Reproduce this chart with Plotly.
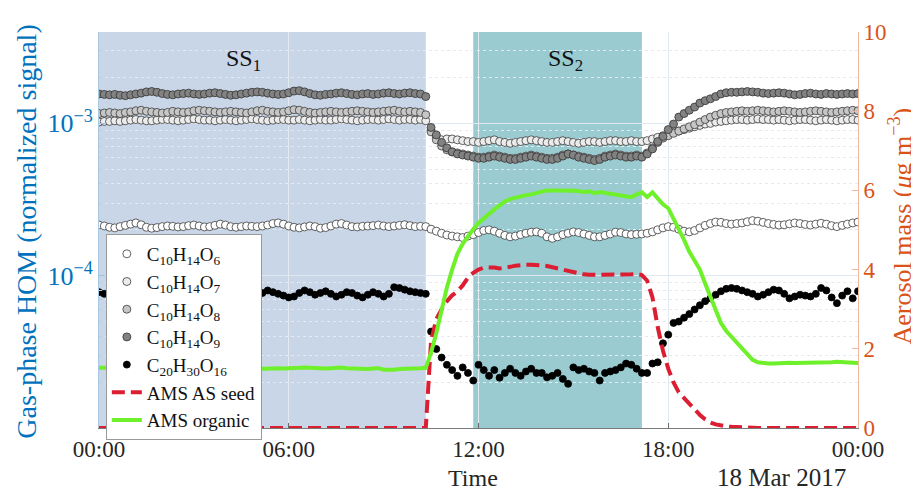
import numpy as np
import pandas as pd
import plotly.graph_objects as go

# ---------------- data (10-min resolution, 18 Mar 2017) ----------------
time_start = "2017-03-18 00:00"
n_points = 145
times = pd.date_range(time_start, periods=n_points, freq="10min")

# gas-phase HOM, normalized signal, in units of 1e-4
c10h14o6_e4 = [2.15,2.12,2.08,2.06,2.10,2.14,2.18,2.22,2.16,2.08,2.05,2.07,2.10,2.12,2.11,2.09,2.10,2.13,2.15,2.12,
               2.09,2.10,2.14,2.18,2.15,2.10,2.08,2.10,2.12,2.11,2.10,2.12,2.15,2.20,2.22,2.18,2.12,2.08,2.06,2.09,
               2.12,2.10,2.05,2.07,2.12,2.18,2.20,2.15,2.10,2.09,2.11,2.12,2.13,2.15,2.12,2.10,2.12,2.14,2.16,2.13,
               2.10,2.11,
               2.10,
               2.02,1.96,1.90,1.85,1.82,1.80,1.78,1.82,
               1.86,1.92,1.98,2.00,1.96,1.90,1.84,1.80,1.82,1.86,1.90,1.93,1.94,1.90,1.80,1.76,1.80,1.86,1.90,1.94,
               1.92,1.88,1.84,1.80,1.80,1.84,1.88,1.93,1.92,1.88,1.86,1.87,1.88,
               1.90,1.94,2.00,2.06,2.10,2.08,2.02,1.96,1.94,1.98,2.06,2.14,2.20,2.25,2.24,2.20,2.18,2.20,2.22,2.26,
               2.30,2.28,2.24,2.20,2.17,2.15,2.16,2.19,2.22,2.20,2.17,2.15,2.18,2.21,2.18,2.13,2.10,2.14,2.18,2.22,2.25]

c10h14o7_e4 = [10.2,10.3,10.3,10.4,10.3,10.4,10.5,10.6,10.5,10.4,10.4,10.5,10.6,10.6,10.5,10.4,10.5,10.6,10.7,10.6,
               10.5,10.5,10.4,10.5,10.6,10.5,10.4,10.5,10.6,10.7,10.6,10.5,10.4,10.5,10.6,10.6,10.5,10.5,10.6,10.5,
               10.4,10.5,10.6,10.5,10.5,10.6,10.7,10.6,10.5,10.4,10.5,10.6,10.6,10.5,10.6,10.7,10.6,10.5,10.6,10.6,
               10.5,10.6,
               10.4,
               9.0,8.2,7.8,7.9,7.9,7.8,7.7,7.6,
               7.6,7.5,7.6,7.7,7.8,7.6,7.5,7.4,7.5,7.6,7.7,7.8,7.7,7.6,7.5,7.5,7.6,7.7,7.6,7.5,7.4,7.5,7.6,7.6,
               7.5,7.6,7.7,7.7,7.6,7.6,7.7,7.6,7.6,
               7.7,7.9,8.1,8.3,8.5,8.7,8.9,9.1,9.3,9.5,9.7,9.9,10.0,10.2,10.3,10.4,
               10.5,10.6,10.6,10.5,10.6,10.7,10.6,10.6,10.5,10.6,10.5,10.4,10.5,10.6,10.6,10.5,10.4,10.5,10.6,10.5,
               10.4,10.5,10.6,10.6,10.5]

c10h14o8_e4 = [11.6,11.7,11.8,11.7,11.6,11.8,11.9,12.1,12.2,12.0,11.9,11.8,11.7,11.8,12.0,11.9,11.8,11.9,12.1,12.2,
               12.1,12.0,11.9,11.8,11.9,12.0,11.9,11.8,11.7,11.9,12.1,12.2,12.0,11.9,11.8,11.9,12.1,12.3,12.2,12.0,
               11.8,11.7,11.8,11.9,12.0,11.9,11.8,11.9,12.0,12.1,12.0,11.9,11.8,11.9,12.0,12.1,12.2,12.0,11.9,12.0,
               11.9,11.8,
               11.4,
               8.8,7.8,7.1,6.7,6.5,6.4,6.3,6.2,
               6.1,6.0,6.0,6.1,6.2,6.1,6.0,5.9,5.9,6.0,6.1,6.2,6.1,6.0,5.9,5.9,6.0,6.2,6.3,6.2,6.1,6.0,5.9,5.8,
               5.9,6.1,6.2,6.3,6.2,6.1,6.1,6.2,6.1,
               6.4,6.9,7.5,8.0,8.3,8.6,8.9,9.2,9.5,9.8,10.2,10.6,11.0,11.3,11.6,11.8,
               11.9,12.0,12.1,12.0,12.1,12.2,12.1,12.0,11.9,12.0,12.1,12.0,11.9,11.8,11.9,12.0,12.1,12.0,11.9,11.8,
               11.9,12.0,12.1,12.2,12.1]

c10h14o9_e4 = [15.6,15.5,15.4,15.5,15.3,15.2,15.4,15.6,15.8,16.1,16.2,16.0,15.7,15.5,15.4,15.6,15.7,15.8,15.6,15.5,
               15.6,15.8,15.9,15.7,15.5,15.3,15.4,15.6,15.8,16.0,16.1,16.0,15.8,15.6,15.5,15.6,15.9,16.3,16.4,16.1,
               15.7,15.4,15.3,15.5,15.6,15.8,15.9,15.7,15.5,15.4,15.6,15.7,15.5,15.6,15.8,15.9,15.7,15.6,15.8,15.9,
               15.7,15.6,
               15.0,
               9.4,8.4,7.5,6.9,6.5,6.3,6.2,6.1,
               6.0,5.9,5.9,6.0,6.1,6.0,5.9,5.8,5.8,5.9,6.0,6.1,6.0,5.9,5.8,5.8,5.9,6.1,6.3,6.2,6.0,5.9,5.8,5.7,
               5.8,6.0,6.1,6.2,6.1,6.0,6.0,6.1,6.0,
               6.3,6.8,7.6,8.2,9.1,9.9,11.0,11.6,12.2,12.8,13.6,14.1,14.5,15.0,15.6,15.9,
               16.0,16.0,16.1,16.2,16.1,16.0,15.8,15.7,15.8,15.9,15.8,15.6,15.4,15.5,15.7,15.8,15.6,15.5,15.7,15.6,
               15.5,15.6,15.7,15.6,15.7]

c20h30o16_e4 = [0.78,0.76,0.74,0.77,0.80,0.78,0.75,0.73,0.76,0.79,0.81,0.78,0.74,0.72,0.75,0.78,0.77,0.74,0.72,0.75,
                0.79,0.80,0.77,0.74,0.76,0.79,0.78,0.75,0.73,0.72,0.74,0.77,0.80,0.78,0.76,0.74,0.72,0.73,0.77,0.80,
                0.78,0.75,0.77,0.79,0.76,0.73,0.75,0.78,0.77,0.74,0.72,0.75,0.78,0.76,0.73,0.76,0.84,0.83,0.81,0.79,
                0.78,0.77,
                0.76,
                0.43,0.33,0.29,0.26,0.24,0.22,0.25,0.23,
                0.205,0.26,0.24,0.22,0.24,0.214,0.23,0.245,0.23,0.22,0.235,0.245,0.23,0.23,0.215,0.22,0.23,0.21,
                0.195,0.25,0.24,0.245,0.235,0.23,0.205,0.23,0.235,0.24,0.25,0.265,0.26,0.245,0.23,0.23,0.265,0.27,
                0.36,0.41,0.49,0.50,0.53,0.56,0.60,0.64,0.68,0.71,0.75,0.79,
                0.82,0.83,0.82,0.80,0.78,0.76,0.73,0.75,0.78,0.81,0.80,0.76,0.71,0.73,0.75,0.74,0.73,0.76,0.83,0.80,
                0.72,0.66,0.74,0.79,0.71,0.79]

# AMS aerosol mass (ug m-3)
ams_as_seed = [0.0,0.0,0.0,0.0,0.0,0.0,0.0,0.0,0.0,0.0,0.0,0.0,0.0,0.0,0.0,0.0,0.0,0.0,0.0,0.0,
               0.0,0.0,0.0,0.0,0.0,0.0,0.0,0.0,0.0,0.0,0.0,0.0,0.0,0.0,0.0,0.0,0.0,0.0,0.0,0.0,
               0.0,0.0,0.0,0.0,0.0,0.0,0.0,0.0,0.0,0.0,0.0,0.0,0.0,0.0,0.0,0.0,0.0,0.0,0.0,0.0,
               0.0,0.0,0.0,
               2.2,2.75,3.0,3.2,3.35,3.45,3.6,3.8,3.92,4.0,4.05,4.06,4.05,4.03,4.04,4.07,4.1,4.12,4.12,4.12,
               4.12,4.11,4.09,4.06,4.03,4.0,3.96,3.93,3.9,3.88,3.87,3.87,3.87,3.86,3.86,3.86,3.87,3.87,3.88,3.89,
               3.86,3.72,3.3,2.55,1.95,1.5,1.15,0.9,0.75,0.6,0.45,0.33,0.22,0.14,0.09,0.06,0.04,0.03,0.02,0.01,
               0.0,0.0,0.0,0.0,0.0,0.0,0.0,0.0,0.0,0.0,0.0,0.0,0.0,0.0,0.0,0.0,0.0,0.0,0.0,0.0,0.0,0.0]

ams_organic = [1.52,1.52,1.51,1.51,1.50,1.50,1.51,1.52,1.52,1.51,1.50,1.50,1.51,1.52,1.53,1.52,1.51,1.50,1.51,1.52,
               1.52,1.51,1.50,1.50,1.51,1.51,1.52,1.52,1.51,1.50,1.49,1.50,1.51,1.52,1.51,1.50,1.50,1.51,1.52,1.53,
               1.52,1.51,1.50,1.50,1.51,1.52,1.53,1.51,1.50,1.49,1.48,1.49,1.50,1.51,1.47,1.46,1.47,1.49,1.49,1.50,
               1.51,1.51,
               1.52,
               1.9,2.4,3.0,3.55,4.0,4.4,4.65,4.85,
               5.02,5.18,5.3,5.42,5.52,5.62,5.72,5.78,5.82,5.85,5.88,5.9,5.93,5.96,6.0,6.0,6.01,6.0,5.99,6.0,
               5.98,5.96,5.98,5.93,5.96,5.94,5.92,5.9,5.88,5.86,5.83,5.90,5.95,5.83,5.95,5.80,5.65,
               5.55,5.3,5.05,4.75,4.45,4.2,4.0,3.65,3.3,2.95,2.65,2.45,2.3,2.15,2.0,1.85,1.72,1.66,
               1.64,1.63,1.63,1.64,1.65,1.65,1.64,1.64,1.65,1.66,1.66,1.65,1.65,1.66,1.67,1.67,1.66,1.65,1.64]

gas_names = ["C<sub>10</sub>H<sub>14</sub>O<sub>6</sub>", "C<sub>10</sub>H<sub>14</sub>O<sub>7</sub>",
             "C<sub>10</sub>H<sub>14</sub>O<sub>8</sub>", "C<sub>10</sub>H<sub>14</sub>O<sub>9</sub>",
             "C<sub>20</sub>H<sub>30</sub>O<sub>16</sub>"]
gas_series = [c10h14o6_e4, c10h14o7_e4, c10h14o8_e4, c10h14o9_e4, c20h30o16_e4]
ams_names = ["AMS AS seed", "AMS organic"]

ss_periods = [("2017-03-18 00:00", "2017-03-18 10:20", "SS<sub>1</sub>"),
              ("2017-03-18 11:50", "2017-03-18 17:10", "SS<sub>2</sub>")]

for s in gas_series + [ams_as_seed, ams_organic]:
    if len(s) != n_points:
        raise ValueError(f"length {len(s)}")

# ---------------- styling ----------------
FONT = "Liberation Serif"
BLUE = "#0072BD"
ORANGE = "#D95319"
TXT = "#262626"
gas_fill = ["#ffffff", "#ececec", "#c6c6c6", "#828282", "#000000"]
gas_line = ["#3a3a3a", "#3a3a3a", "#3a3a3a", "#333333", "#000000"]
gas_size = [8, 8, 8, 8, 7]
ss_fill = ["#c9d6e8", "#99cbd1"]

fig = go.Figure()

for name, vals, fc, lc, sz in zip(gas_names, gas_series, gas_fill, gas_line, gas_size):
    fig.add_trace(go.Scatter(
        x=times, y=np.array(vals) * 1e-4, name=name, mode="markers",
        marker=dict(symbol="circle", size=sz, color=fc, line=dict(color=lc, width=0.8)),
        yaxis="y", cliponaxis=True))

fig.add_trace(go.Scatter(
    x=times, y=ams_as_seed, name=ams_names[0], mode="lines",
    line=dict(color="#DC1E32", width=4, dash="13px,6px"), yaxis="y2"))
fig.add_trace(go.Scatter(
    x=times, y=ams_organic, name=ams_names[1], mode="lines",
    line=dict(color="#6EF02A", width=4), yaxis="y2"))

for (x0, x1, label), fc in zip(ss_periods, ss_fill):
    fig.add_shape(type="rect", xref="x", yref="paper", x0=x0, x1=x1, y0=0, y1=1,
                  fillcolor=fc, line=dict(width=0), layer="below")

fig.add_annotation(x=0.19, y=0.93, xref="paper", yref="paper", text=ss_periods[0][2],
                   xanchor="center", yanchor="middle", showarrow=False,
                   font=dict(family=FONT, size=24, color="#111111"))
fig.add_annotation(x=0.614, y=0.93, xref="paper", yref="paper", text=ss_periods[1][2],
                   xanchor="center", yanchor="middle", showarrow=False,
                   font=dict(family=FONT, size=24, color="#111111"))

# axis titles as annotations
fig.add_annotation(x=-0.096, y=0.496, xref="paper", yref="paper", textangle=-90,
                   xanchor="center", yanchor="middle",
                   text="Gas-phase HOM (normalized signal)", showarrow=False,
                   font=dict(family=FONT, size=28, color=BLUE))
fig.add_annotation(x=1.056, y=0.51, xref="paper", yref="paper", textangle=-90,
                   xanchor="center", yanchor="middle",
                   text="Aerosol mass (<i>μ</i>g m<sup>−3</sup>)", showarrow=False,
                   font=dict(family=FONT, size=26, color=ORANGE))
fig.add_annotation(x=0.493, y=-0.125, xref="paper", yref="paper", text="Time",
                   xanchor="center", yanchor="middle",
                   showarrow=False, font=dict(family=FONT, size=24, color=TXT))
fig.add_annotation(x=0.987, y=-0.125, xref="paper", yref="paper", xanchor="right", yanchor="middle",
                   text="18 Mar 2017", showarrow=False, font=dict(family=FONT, size=25, color=TXT))

minor_vals = [m * 10.0 ** e for e in (-5, -4, -3) for m in range(2, 10) if m * 10.0 ** e < 4.0e-3]

# page body adds an 8px offset; size/margins compensate so the plot area sits at x 99-858, y 28-428
fig.update_layout(
    width=911, height=482,
    margin=dict(l=91, r=61, t=20, b=62),
    plot_bgcolor="white", paper_bgcolor="white",
    font=dict(family=FONT, color=TXT, size=22),
    showlegend=True,
    legend=dict(x=0.009, y=0.49, xanchor="left", yanchor="top",
                bgcolor="white", bordercolor="#9a9a9a", borderwidth=1,
                font=dict(family=FONT, size=19, color="#111111"),
                itemwidth=30, tracegroupgap=0),
    xaxis=dict(
        type="date", range=["2017-03-18 00:00", "2017-03-19 00:00"],
        tick0="2017-03-18 00:00", dtick=6 * 3600 * 1000, tickformat="%H:%M",
        ticks="inside", ticklen=5, tickcolor="#6a6a6a",
        showline=True, linecolor="#7a7a7a", linewidth=1,
        showgrid=True, gridcolor="#e2e9ef", gridwidth=1,
        tickfont=dict(family=FONT, size=23, color=TXT), zeroline=False),
    yaxis=dict(
        type="log", range=[-5, -2.4],
        tickvals=[1e-4, 1e-3], ticktext=["10<sup>−4</sup>", "10<sup>−3</sup>"],
        ticks="inside", ticklen=6, tickcolor="#9cc1de",
        showline=True, linecolor="#a9c9e3", linewidth=1,
        showgrid=True, gridcolor="#dfe8f0", gridwidth=1,
        minor=dict(tickvals=minor_vals, ticks="inside", ticklen=3, tickcolor="#b7d0e4",
                   showgrid=True, gridcolor="#e3eaf0", griddash="dot", gridwidth=1),
        tickfont=dict(family=FONT, size=26, color=BLUE), zeroline=False),
    yaxis2=dict(
        overlaying="y", side="right", range=[0, 10], dtick=2, tick0=0,
        ticks="inside", ticklen=6, tickcolor="#f0b89e",
        showline=True, linecolor="#f1b8a0", linewidth=1,
        showgrid=False, zeroline=False,
        tickfont=dict(family=FONT, size=23, color=ORANGE)),
)

fig.write_html("out.html")
